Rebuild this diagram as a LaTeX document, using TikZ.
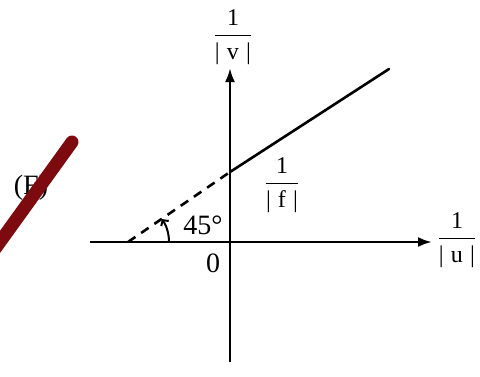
\documentclass[tikz,border=0pt]{standalone}
\usepackage{amsmath}
\usepackage{fontspec}
\setmainfont{Liberation Serif}
\usetikzlibrary{arrows.meta}
\definecolor{slashred}{RGB}{125,10,15}
\newcommand{\myfr}[1]{$\dfrac{\text{1}}{\text{|\hspace{0.3em}#1\hspace{0.3em}|}}$}
\begin{document}
\begin{tikzpicture}[x=1pt,y=1pt,
  axis/.style={line width=2.6pt,-{Latex[length=14pt,width=10pt]}},
  graphline/.style={line width=2.6pt},
  lbl/.style={inner sep=0pt,font=\fontsize{24}{28}\selectfont},
  biglbl/.style={inner sep=0pt,font=\fontsize{28}{32}\selectfont}]
\useasboundingbox (0,0) rectangle (480,376);
% points
\coordinate (xs) at (90,134);
\coordinate (xe) at (432,134);
\coordinate (ys) at (230,14);
\coordinate (ye) at (230,308);
\coordinate (A) at (128,134);
\coordinate (P) at (230,204);
\coordinate (E) at (389,307);
% axes
\draw[axis] (xs) -- (xe);
\draw[axis] (ys) -- (ye);
% graph
\draw[graphline, dash pattern=on 9pt off 7pt] (A) -- (P);
\draw[graphline, line cap=round] (P) -- (E);
% angle
\draw[line width=2pt,-{Straight Barb[length=4pt,width=9pt]}] ([shift={(41,0)}]A) arc[start angle=0,end angle=34,radius=41];
% labels
\node[biglbl] (ang) at (203,151) {45°};
\node[biglbl] (zero) at (213,113) {0};
\node[lbl] (lf) at (282,191) {\myfr{f}};
\node[lbl] (lv) at (233,339) {\myfr{v}};
\node[lbl] (lu) at (457,136) {\myfr{u}};
\node[biglbl] (F) at (31,188) {(F)};
% red slash
\coordinate (s1) at (-8,123);
\coordinate (s2) at (72,234);
\draw[slashred, line width=13pt, line cap=round] (s1) -- (s2);
\end{tikzpicture}
\end{document}
